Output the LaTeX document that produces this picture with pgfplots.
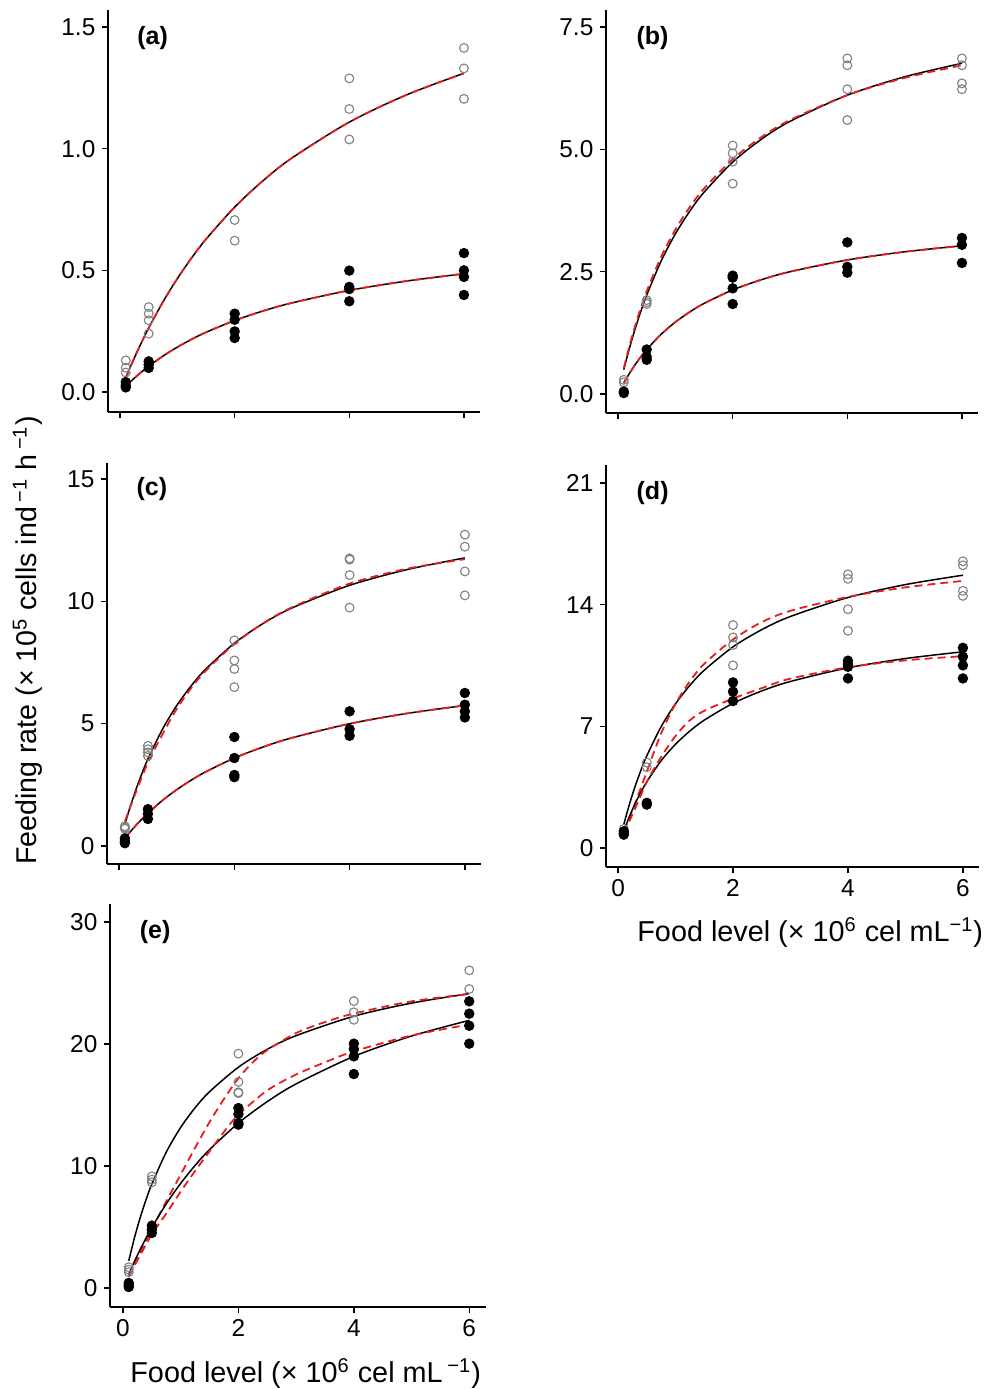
\documentclass[border=0pt]{standalone}
\usepackage{pgfplots}
\pgfplotsset{compat=1.18}
\usepackage{fontspec}
\setmainfont{Liberation Sans}
\definecolor{opengrey}{RGB}{128,128,128}
\definecolor{fitred}{RGB}{232,28,28}
\tikzset{lab/.style={font=\bfseries\fontsize{12.5}{14}\selectfont}}
\pgfplotsset{
 panel/.style={
   scale only axis,
   axis x line*=bottom, axis y line*=left,
   axis line style={line width=0.9pt},
   tick align=outside,
   major tick length=2.8pt,
   every tick/.style={black, line width=0.7pt},
   xmin=-0.21, xmax=6.28,
   xtick={0,2,4,6},
   ticklabel style={font=\fontsize{12.2}{14}\selectfont},
   /pgf/number format/assume math mode=true,
   clip=false,
 },
 openpts/.style={only marks, mark=o, mark size=2.2pt, mark options={draw=opengrey, line width=0.55pt}},
 fillpts/.style={only marks, mark=*, mark size=2.4pt, mark options={fill=black, draw=black}},
 blk/.style={black, line width=0.75pt, smooth, no marks},
 reddash/.style={fitred, line width=0.9pt, dash pattern=on 4pt off 2.5pt, smooth, no marks},
}
\begin{document}
\begin{tikzpicture}
\path[use as bounding box] (0,0) rectangle (492.5pt,694.5pt);

% (a)
\begin{axis}[panel, at={(54pt,488.5pt)}, anchor=south west, width=186pt, height=201pt,
  ymin=-0.082, ymax=1.57, ytick={0,0.5,1,1.5}, xticklabels={},
  yticklabel style={/pgf/number format/.cd,fixed,fixed zerofill,precision=1}]
\addplot[openpts] coordinates {(0.1,0.13)(0.1,0.10)(0.1,0.08)(0.5,0.349)(0.5,0.322)(0.5,0.295)(0.5,0.240)(2,0.707)(2,0.622)(4,1.289)(4,1.163)(4,1.038)(6,1.414)(6,1.330)(6,1.205)};
\addplot[fillpts] coordinates {(0.1,0.041)(0.1,0.027)(0.1,0.019)(0.5,0.126)(0.5,0.112)(0.5,0.099)(2,0.322)(2,0.297)(2,0.249)(2,0.222)(4,0.499)(4,0.432)(4,0.423)(4,0.373)(6,0.571)(6,0.500)(6,0.473)(6,0.399)};
\addplot[blk] coordinates {(0.1,0.0586)(0.2,0.1140)(0.3,0.1664)(0.4,0.2160)(0.5,0.2631)(0.75,0.3708)(1,0.4664)(1.25,0.5516)(1.5,0.6282)(2,0.7600)(2.5,0.8695)(3,0.9619)(4,1.1092)(5,1.2214)(6,1.3098)};
\addplot[reddash] coordinates {(0.1,0.0586)(0.2,0.1140)(0.3,0.1664)(0.4,0.2160)(0.5,0.2631)(0.75,0.3708)(1,0.4664)(1.25,0.5516)(1.5,0.6282)(2,0.7600)(2.5,0.8695)(3,0.9619)(4,1.1092)(5,1.2214)(6,1.3098)};
\addplot[blk] coordinates {(0.1,0.0240)(0.2,0.0464)(0.3,0.0675)(0.4,0.0872)(0.5,0.1058)(0.75,0.1479)(1,0.1846)(1.25,0.2169)(1.5,0.2455)(2,0.2940)(2.5,0.3335)(3,0.3664)(4,0.4178)(5,0.4562)(6,0.4860)};
\addplot[reddash] coordinates {(0.1,0.0240)(0.2,0.0464)(0.3,0.0675)(0.4,0.0872)(0.5,0.1058)(0.75,0.1479)(1,0.1846)(1.25,0.2169)(1.5,0.2455)(2,0.2940)(2.5,0.3335)(3,0.3664)(4,0.4178)(5,0.4562)(6,0.4860)};
\node[lab] at (rel axis cs:0.12,0.93) {(a)};
\end{axis}

% (b)
\begin{axis}[panel, at={(303pt,488pt)}, anchor=south west, width=186pt, height=201.5pt,
  ymin=-0.388, ymax=7.85, ytick={0,2.5,5,7.5}, xticklabels={},
  yticklabel style={/pgf/number format/.cd,fixed,fixed zerofill,precision=1}]
\addplot[openpts] coordinates {(0.1,0.29)(0.1,0.24)(0.5,1.92)(0.5,1.88)(0.5,1.84)(2,5.08)(2,4.92)(2,4.75)(2,4.30)(4,6.86)(4,6.72)(4,6.23)(4,5.60)(6,6.86)(6,6.72)(6,6.35)(6,6.23)};
\addplot[fillpts] coordinates {(0.1,0.02)(0.1,0.05)(0.5,0.91)(0.5,0.76)(0.5,0.70)(2,2.42)(2,2.38)(2,2.16)(2,1.84)(4,3.10)(4,2.60)(4,2.48)(6,3.19)(6,3.05)(6,2.68)};
\addplot[blk] coordinates {(0.1,0.498)(0.2,0.9415)(0.3,1.339)(0.4,1.697)(0.5,2.021)(0.75,2.713)(1,3.273)(1.25,3.735)(1.5,4.124)(2,4.740)(2.5,5.207)(3,5.573)(4,6.109)(5,6.484)(6,6.760)};
\addplot[reddash] coordinates {(0.1,0.525)(0.2,0.988)(0.3,1.400)(0.4,1.768)(0.5,2.100)(0.75,2.800)(1,3.360)(1.25,3.818)(1.5,4.200)(2,4.800)(2.5,5.250)(3,5.600)(4,6.109)(5,6.462)(6,6.720)};
\addplot[blk] coordinates {(0.1,0.224)(0.2,0.4234)(0.3,0.602)(0.4,0.7629)(0.5,0.909)(0.75,1.219)(1,1.470)(1.25,1.677)(1.5,1.851)(2,2.127)(2.5,2.336)(3,2.500)(4,2.740)(5,2.907)(6,3.030)};
\addplot[reddash] coordinates {(0.1,0.224)(0.2,0.4234)(0.3,0.602)(0.4,0.7629)(0.5,0.909)(0.75,1.219)(1,1.470)(1.25,1.677)(1.5,1.851)(2,2.127)(2.5,2.336)(3,2.500)(4,2.740)(5,2.907)(6,3.030)};
\node[lab] at (rel axis cs:0.125,0.93) {(b)};
\end{axis}

% (c)
\begin{axis}[panel, at={(53.5pt,262.5pt)}, anchor=south west, width=187pt, height=200.5pt,
  ymin=-0.74, ymax=15.65, ytick={0,5,10,15}, xticklabels={}]
\addplot[openpts] coordinates {(0.1,0.80)(0.1,0.75)(0.1,0.70)(0.5,4.09)(0.5,3.95)(0.5,3.82)(0.5,3.68)(2,8.40)(2,7.58)(2,7.23)(2,6.49)(4,11.75)(4,11.70)(4,11.07)(4,9.74)(6,12.72)(6,12.23)(6,11.22)(6,10.24)};
\addplot[fillpts] coordinates {(0.1,0.31)(0.1,0.18)(0.1,0.11)(0.5,1.50)(0.5,1.31)(0.5,1.10)(2,4.45)(2,3.59)(2,2.90)(2,2.81)(4,5.50)(4,4.77)(4,4.50)(6,6.25)(6,5.77)(6,5.50)(6,5.25)};
\addplot[blk] coordinates {(0.1,0.877)(0.2,1.657)(0.3,2.354)(0.4,2.982)(0.5,3.550)(0.75,4.759)(1,5.735)(1.25,6.539)(1.5,7.215)(2,8.283)(2.5,9.091)(3,9.724)(4,10.650)(5,11.295)(6,11.771)};
\addplot[reddash] coordinates {(0.1,1.0)(0.3,2.25)(0.5,3.4)(0.75,4.55)(1,5.6)(1.25,6.45)(1.5,7.15)(2,8.25)(2.5,9.1)(3,9.75)(4,10.72)(5,11.33)(6,11.72)};
\addplot[blk] coordinates {(0.1,0.307)(0.2,0.593)(0.3,0.858)(0.4,1.105)(0.5,1.337)(0.75,1.854)(1,2.298)(1.25,2.685)(1.5,3.024)(2,3.590)(2.5,4.044)(3,4.417)(4,4.993)(5,5.416)(6,5.740)};
\addplot[reddash] coordinates {(0.1,0.307)(0.2,0.593)(0.3,0.858)(0.4,1.105)(0.5,1.337)(0.75,1.854)(1,2.298)(1.25,2.685)(1.5,3.024)(2,3.590)(2.5,4.044)(3,4.417)(4,4.993)(5,5.416)(6,5.740)};
\node[lab] at (rel axis cs:0.12,0.935) {(c)};
\end{axis}

% (d)
\begin{axis}[panel, at={(303pt,261pt)}, anchor=south west, width=186.5pt, height=201pt,
  ymin=-1.09, ymax=22.04, ytick={0,7,14,21}]
\addplot[openpts] coordinates {(0.1,1.1)(0.1,0.9)(0.5,4.92)(0.5,4.65)(2,12.83)(2,12.12)(2,11.68)(2,10.51)(4,15.75)(4,15.49)(4,13.74)(4,12.50)(6,16.50)(6,16.27)(6,14.80)(6,14.51)};
\addplot[fillpts] coordinates {(0.1,0.96)(0.1,0.85)(0.1,0.77)(0.5,2.6)(0.5,2.5)(2,9.53)(2,9.00)(2,8.46)(4,10.78)(4,10.59)(4,10.43)(4,9.76)(6,11.52)(6,11.01)(6,10.51)(6,9.76)};
\addplot[blk] coordinates {(0.1,1.364)(0.2,2.547)(0.3,3.581)(0.4,4.494)(0.5,5.306)(0.75,6.988)(1,8.304)(1.25,9.363)(1.5,10.232)(2,11.576)(2.5,12.566)(3,13.326)(4,14.415)(5,15.159)(6,15.699)};
\addplot[reddash] coordinates {(0.1,0.95)(0.3,2.6)(0.5,4.4)(0.75,6.6)(1,8.3)(1.25,9.6)(1.5,10.6)(2,12.0)(2.5,13.0)(3,13.65)(4,14.45)(5,15.0)(6,15.37)};
\addplot[blk] coordinates {(0.1,0.981)(0.2,1.832)(0.3,2.576)(0.4,3.233)(0.5,3.817)(0.75,5.027)(1,5.974)(1.25,6.735)(1.5,7.361)(2,8.327)(2.5,9.039)(3,9.586)(4,10.370)(5,10.905)(6,11.293)};
\addplot[reddash] coordinates {(0.1,0.85)(0.3,2.3)(0.5,3.8)(0.75,5.25)(1,6.45)(1.25,7.35)(1.5,7.9)(2,8.6)(2.5,9.2)(3,9.75)(4,10.4)(5,10.8)(6,11.04)};
\node[lab] at (rel axis cs:0.125,0.93) {(d)};
\end{axis}

% (e)
\begin{axis}[panel, at={(55pt,41pt)}, anchor=south west, width=188pt, height=201.5pt,
  xmin=-0.225, xmax=6.29,
  ymin=-1.56, ymax=31.48, ytick={0,10,20,30}]
\addplot[openpts] coordinates {(0.1,1.7)(0.1,1.5)(0.1,1.3)(0.5,9.15)(0.5,8.88)(0.5,8.66)(2,19.21)(2,16.89)(2,16.04)(2,15.98)(4,23.52)(4,22.60)(4,21.99)(6,26.04)(6,24.51)};
\addplot[fillpts] coordinates {(0.1,0.41)(0.1,0.22)(0.1,0.08)(0.5,5.11)(0.5,4.78)(0.5,4.51)(2,14.75)(2,14.26)(2,13.52)(2,13.39)(4,20.03)(4,19.59)(4,18.99)(4,17.54)(6,23.50)(6,22.49)(6,21.50)(6,20.03)};
\addplot[blk] coordinates {(0.1,2.228)(0.2,4.137)(0.3,5.792)(0.4,7.240)(0.5,8.518)(0.75,11.138)(1,13.164)(1.25,14.776)(1.5,16.089)(2,18.100)(2.5,19.568)(3,20.686)(4,22.277)(5,23.355)(6,24.133)};
\addplot[reddash] coordinates {(0.1,0.95)(0.3,2.9)(0.5,4.8)(0.75,7.1)(1,9.3)(1.25,11.5)(1.5,13.6)(1.75,15.5)(2,17.2)(2.25,18.5)(2.5,19.5)(3,20.9)(3.5,21.8)(4,22.5)(5,23.5)(6,24.1)};
\addplot[blk] coordinates {(0.1,1.132)(0.2,2.187)(0.3,3.171)(0.4,4.092)(0.5,4.956)(0.75,6.898)(1,8.579)(1.25,10.048)(1.5,11.342)(2,13.518)(2.5,15.278)(3,16.730)(4,18.984)(5,20.655)(6,21.94)};
\addplot[reddash] coordinates {(0.1,1.0)(0.3,2.7)(0.5,4.4)(0.75,6.1)(1,7.9)(1.25,9.6)(1.5,11.2)(1.75,12.8)(2,14.2)(2.5,16.2)(3,17.5)(3.5,18.5)(4,19.4)(5,20.7)(6,21.6)};
\node[lab] at (rel axis cs:0.12,0.93) {(e)};
\end{axis}

\node[rotate=90, anchor=base west, font=\fontsize{14.3}{17}\selectfont] at (18.5pt,258.5pt)
  {Feeding rate (× 10\textsuperscript{5} cells ind\,\textsuperscript{−1} h\,\textsuperscript{−1})};
\node[anchor=base west, font=\fontsize{14.4}{17}\selectfont, inner sep=0pt] at (318.5pt,223.5pt)
  {Food level (× 10\textsuperscript{6} cel mL\textsuperscript{−1})};
\node[anchor=base west, font=\fontsize{14.4}{17}\selectfont, inner sep=0pt] at (65pt,3pt)
  {Food level (× 10\textsuperscript{6} cel mL\,\textsuperscript{−1})};
\end{tikzpicture}
\end{document}
